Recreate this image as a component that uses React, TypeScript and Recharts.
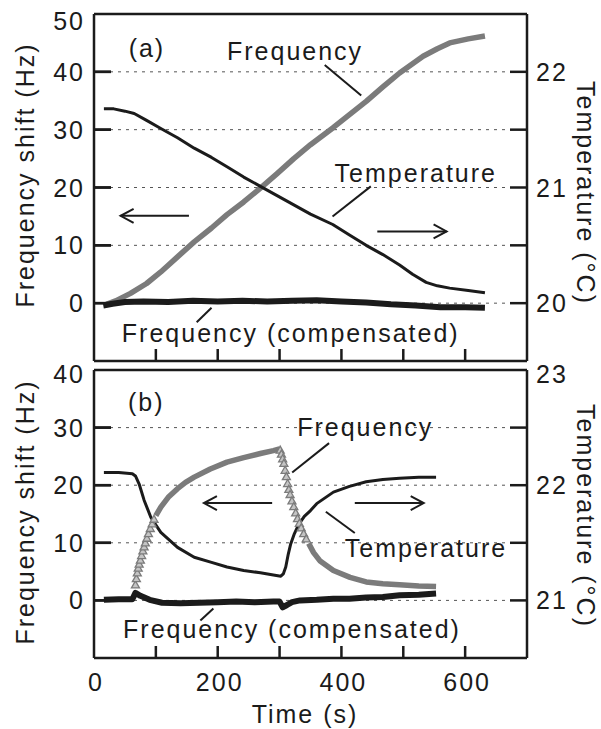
import React from "react";
import {
  CartesianGrid,
  Line,
  LineChart,
  ReferenceDot,
  ReferenceLine,
  XAxis,
  YAxis
} from "recharts";

const FONT = '"Liberation Sans", Arial, Helvetica, sans-serif';
const INK = "#1b1b1b";
const GREY = "#7b7b7b";

// time axis (s)
const timeTicks = [0, 100, 200, 300, 400, 500, 600, 700];
const timeLabels = [0, 200, 400, 600];

// panel (a): slow cool-down
const hzTicksA = [-10, 0, 10, 20, 30, 40, 50];
const tempTicksA = [19.5, 20, 20.5, 21, 21.5, 22, 22.5];

const freqA = [
  { t: 20, hz: -0.2 }, { t: 35, hz: 0.4 }, { t: 59, hz: 1.7 }, { t: 85, hz: 3.4 },
  { t: 108, hz: 5.4 }, { t: 135, hz: 8.0 }, { t: 162, hz: 10.6 }, { t: 190, hz: 13.0 },
  { t: 215, hz: 15.3 }, { t: 242, hz: 17.5 }, { t: 269, hz: 19.9 }, { t: 296, hz: 22.4 },
  { t: 323, hz: 25.0 }, { t: 350, hz: 27.4 }, { t: 386, hz: 30.3 }, { t: 413, hz: 32.6 },
  { t: 440, hz: 34.9 }, { t: 467, hz: 37.4 }, { t: 494, hz: 39.8 }, { t: 515, hz: 41.4 },
  { t: 532, hz: 42.7 }, { t: 555, hz: 44.0 }, { t: 575, hz: 45.0 }, { t: 605, hz: 45.7 },
  { t: 632, hz: 46.2 }
];

const tempA = [
  { t: 16, temp: 21.68 }, { t: 32, temp: 21.68 }, { t: 50, temp: 21.66 }, { t: 65, temp: 21.64 },
  { t: 85, temp: 21.58 }, { t: 108, temp: 21.51 }, { t: 135, temp: 21.43 }, { t: 162, temp: 21.34 },
  { t: 190, temp: 21.26 }, { t: 215, temp: 21.18 }, { t: 242, temp: 21.09 }, { t: 269, temp: 21.01 },
  { t: 296, temp: 20.93 }, { t: 323, temp: 20.85 }, { t: 350, temp: 20.77 }, { t: 386, temp: 20.68 },
  { t: 413, temp: 20.59 }, { t: 440, temp: 20.5 }, { t: 467, temp: 20.42 }, { t: 494, temp: 20.33 },
  { t: 515, temp: 20.25 }, { t: 537, temp: 20.18 }, { t: 555, temp: 20.15 }, { t: 575, temp: 20.13 },
  { t: 605, temp: 20.11 }, { t: 632, temp: 20.09 }
];

const compA = [
  { t: 15, hz: -0.4 }, { t: 30, hz: -0.1 }, { t: 50, hz: 0.2 }, { t: 80, hz: 0.3 },
  { t: 120, hz: 0.2 }, { t: 160, hz: 0.4 }, { t: 200, hz: 0.3 }, { t: 240, hz: 0.4 },
  { t: 280, hz: 0.3 }, { t: 320, hz: 0.4 }, { t: 360, hz: 0.5 }, { t: 400, hz: 0.3 },
  { t: 440, hz: 0.1 }, { t: 480, hz: -0.2 }, { t: 520, hz: -0.4 }, { t: 560, hz: -0.7 },
  { t: 600, hz: -0.7 }, { t: 632, hz: -0.8 }
];

// panel (b): step down then step back up
const hzTicksB = [-10, 0, 10, 20, 30, 40];
const tempTicksB = [20.5, 21, 21.5, 22, 22.5, 23];

const tempB = [
  { t: 16, temp: 22.11 }, { t: 40, temp: 22.11 }, { t: 62, temp: 22.1 }, { t: 67, temp: 22.08 },
  { t: 73, temp: 22.01 }, { t: 81, temp: 21.87 }, { t: 92, temp: 21.72 }, { t: 108, temp: 21.59 },
  { t: 135, temp: 21.46 }, { t: 162, temp: 21.375 }, { t: 190, temp: 21.33 }, { t: 215, temp: 21.29 },
  { t: 242, temp: 21.26 }, { t: 269, temp: 21.24 }, { t: 290, temp: 21.22 }, { t: 302, temp: 21.21 },
  { t: 306, temp: 21.23 }, { t: 310, temp: 21.29 }, { t: 314, temp: 21.4 }, { t: 318, temp: 21.49 },
  { t: 324, temp: 21.58 }, { t: 331, temp: 21.66 }, { t: 340, temp: 21.73 }, { t: 350, temp: 21.78 },
  { t: 360, temp: 21.84 }, { t: 387, temp: 21.94 }, { t: 413, temp: 21.99 }, { t: 440, temp: 22.03 },
  { t: 467, temp: 22.05 }, { t: 494, temp: 22.06 }, { t: 525, temp: 22.07 }, { t: 553, temp: 22.07 }
];

// dense part of the frequency record, drawn as a band
const freqB = [
  { t: 100, hz: 14.7 }, { t: 108, hz: 16.2 }, { t: 120, hz: 17.9 }, { t: 135, hz: 19.4 },
  { t: 148, hz: 20.5 }, { t: 162, hz: 21.4 }, { t: 188, hz: 22.8 }, { t: 215, hz: 24.0 },
  { t: 242, hz: 24.8 }, { t: 269, hz: 25.5 }, { t: 290, hz: 26.0 }, { t: 300, hz: 26.3 },
  { t: 320, hz: null },
  { t: 347, hz: 9.9 }, { t: 355, hz: 8.3 }, { t: 365, hz: 6.9 }, { t: 387, hz: 5.2 },
  { t: 414, hz: 4.0 }, { t: 440, hz: 3.2 }, { t: 467, hz: 2.9 }, { t: 494, hz: 2.7 },
  { t: 525, hz: 2.5 }, { t: 553, hz: 2.4 }
];

// sparse samples on the fast rise and fall, drawn as open triangles
const freqBSteep = [
  { t: 67, hz: 2.6 }, { t: 68.5, hz: 3.7 }, { t: 70, hz: 4.7 }, { t: 71.5, hz: 5.5 },
  { t: 73, hz: 6.2 }, { t: 75, hz: 6.9 }, { t: 77, hz: 7.7 }, { t: 79, hz: 8.5 },
  { t: 81, hz: 9.2 }, { t: 83, hz: 9.9 }, { t: 85.5, hz: 10.7 }, { t: 88, hz: 11.5 },
  { t: 91, hz: 12.4 }, { t: 94, hz: 13.2 }, { t: 97, hz: 14.0 },
  { t: 301, hz: 26.0 }, { t: 303, hz: 25.3 }, { t: 305, hz: 24.5 }, { t: 307, hz: 23.7 },
  { t: 309, hz: 22.5 }, { t: 311, hz: 21.4 }, { t: 313, hz: 20.2 }, { t: 315, hz: 19.2 },
  { t: 317, hz: 18.3 }, { t: 320, hz: 17.2 }, { t: 323, hz: 16.2 }, { t: 326, hz: 15.1 },
  { t: 329, hz: 14.1 }, { t: 332, hz: 13.3 }, { t: 335, hz: 12.5 }, { t: 339, hz: 11.5 },
  { t: 343, hz: 10.6 }
];

const compB = [
  { t: 16, hz: 0.1 }, { t: 40, hz: 0.2 }, { t: 62, hz: 0.2 }, { t: 67, hz: 1.3 },
  { t: 75, hz: 0.8 }, { t: 90, hz: 0.1 }, { t: 110, hz: -0.4 }, { t: 140, hz: -0.5 },
  { t: 170, hz: -0.4 }, { t: 200, hz: -0.3 }, { t: 230, hz: -0.2 }, { t: 260, hz: -0.3 },
  { t: 290, hz: -0.2 }, { t: 300, hz: -0.2 }, { t: 305, hz: -1.2 }, { t: 312, hz: -0.8 },
  { t: 320, hz: -0.3 }, { t: 333, hz: 0.0 }, { t: 360, hz: 0.1 }, { t: 387, hz: 0.3 },
  { t: 413, hz: 0.3 }, { t: 440, hz: 0.5 }, { t: 467, hz: 0.6 }, { t: 494, hz: 0.9 },
  { t: 525, hz: 1.0 }, { t: 553, hz: 1.2 }
];

const textStyle = { fontFamily: FONT, fontSize: 25, letterSpacing: 2, fill: INK };
const frame = { stroke: INK, strokeWidth: 2.5 };

// left axis: inward mark plus label (labels from 0 up)
const hzTick = (lo: number, hi: number, topShift: number) => (props: any) => {
  const { x, y, payload } = props;
  const v = payload.value;
  return (
    <g>
      {v > lo && v < hi && (
        <line x1={x} y1={y} x2={x + 17} y2={y} stroke={INK} strokeWidth={2.5} />
      )}
      {v >= 0 && (
        <text x={x - 9} y={y + 9 + (v === hi ? topShift : 0)} textAnchor="end" style={textStyle}>
          {v}
        </text>
      )}
    </g>
  );
};

// right axis: labels on whole degrees only
const tempLabel = (hi: number, topShift: number) => (props: any) => {
  const { x, y, payload } = props;
  const v = payload.value;
  if (!Number.isInteger(v)) return <g />;
  return (
    <text x={x + 9} y={y + 9 + (v === hi ? topShift : 0)} textAnchor="start" style={textStyle}>
      {v}
    </text>
  );
};

const timeLabel = (withLabels: boolean) => (props: any) => {
  const { x, y, payload } = props;
  const v = payload.value;
  if (!withLabels || !timeLabels.includes(v)) return <g />;
  return (
    <text x={x + 2} y={y + 33} textAnchor="middle" style={textStyle}>
      {v}
    </text>
  );
};

// inward tick marks at both ends of a full-width segment:
// the Hz ticks on the left, the 0.5 °C steps on the right
const sideTicks = (p: any) => {
  const { x1, x2, y1, y2 } = p;
  return (
    <g>
      <line x1={x1} y1={y1} x2={x1 + 17} y2={y1} stroke={INK} strokeWidth={2.5} />
      <line x1={x2 - 17} y1={y2} x2={x2} y2={y2} stroke={INK} strokeWidth={2.5} />
    </g>
  );
};

const bottomTick = (p: any) => {
  const { x1, y1, y2 } = p;
  const b = Math.max(y1, y2);
  return <path d={`M${x1},${b}v-12`} stroke={INK} strokeWidth={2.5} fill="none" />;
};

const note = (text: string) => (p: any) => (
  <text x={p.cx} y={p.cy} style={textStyle}>
    {text}
  </text>
);

const arrow = (p: any) => {
  const { x1, y1, x2, y2 } = p;
  const dir = Math.sign(x2 - x1);
  return (
    <g>
      <line x1={x1} y1={y1} x2={x2} y2={y2} stroke={INK} strokeWidth={2} />
      <polyline
        points={`${x2 - dir * 13},${y2 - 7} ${x2},${y2} ${x2 - dir * 13},${y2 + 7}`}
        fill="none"
        stroke={INK}
        strokeWidth={2}
      />
    </g>
  );
};

const triangle = (p: any) => {
  const { cx, cy, index } = p;
  return (
    <path
      key={`tri-${index}`}
      d={`M${cx},${cy - 4.5} L${cx + 4},${cy + 2.5} L${cx - 4},${cy + 2.5} Z`}
      fill="#c4c4c4"
      stroke={GREY}
      strokeWidth={1.3}
    />
  );
};

const pointer = (a: [number, number], b: [number, number]) => (
  <ReferenceLine
    yAxisId="hz"
    segment={[{ x: a[0], y: a[1] }, { x: b[0], y: b[1] }]}
    stroke={INK}
    strokeWidth={2}
  />
);

const tickMarks = (hzTicks: number[]) => [
  ...hzTicks.slice(1, -1).map((v) => (
    <ReferenceLine
      key={`h${v}`}
      yAxisId="hz"
      segment={[{ x: 0, y: v }, { x: 700, y: v }]}
      shape={sideTicks}
    />
  )),
  ...timeTicks
    .slice(1, -1)
    .map((v) => <ReferenceLine key={`t${v}`} yAxisId="hz" x={v} shape={bottomTick} />)
];

function PanelA() {
  return (
    <LineChart width={601} height={368} margin={{ top: 14, right: 0, bottom: 0, left: 0 }}>
      <CartesianGrid yAxisId="hz" vertical={false} stroke="#555" strokeDasharray="3 5" />
      <XAxis
        dataKey="t"
        type="number"
        domain={[0, 700]}
        ticks={timeTicks}
        interval={0}
        height={7}
        tickSize={0}
        tickMargin={0}
        axisLine={frame}
        tickLine={false}
        tick={timeLabel(false)}
        allowDataOverflow
      />
      <YAxis
        yAxisId="hz"
        type="number"
        domain={[-10, 50]}
        ticks={hzTicksA}
        interval={0}
        width={94}
        tickSize={0}
        tickMargin={0}
        axisLine={frame}
        tickLine={false}
        tick={hzTick(-10, 50, 7)}
        allowDataOverflow
      />
      <YAxis
        yAxisId="temp"
        orientation="right"
        type="number"
        domain={[19.5, 22.5]}
        ticks={tempTicksA}
        interval={0}
        width={74}
        tickSize={0}
        tickMargin={0}
        axisLine={frame}
        tickLine={false}
        tick={tempLabel(22.5, 2)}
        allowDataOverflow
      />
      <ReferenceLine yAxisId="hz" y={50} stroke={INK} strokeWidth={2.5} />
      {tickMarks(hzTicksA)}
      <Line yAxisId="hz" data={freqA} dataKey="hz" stroke={GREY} strokeWidth={5.5} dot={false} strokeLinejoin="round" isAnimationActive={false} />
      <Line yAxisId="temp" data={tempA} dataKey="temp" stroke={INK} strokeWidth={3} dot={false} strokeLinejoin="round" isAnimationActive={false} />
      <Line yAxisId="hz" data={compA} dataKey="hz" stroke={INK} strokeWidth={6} dot={false} strokeLinejoin="round" isAnimationActive={false} />

      <ReferenceDot yAxisId="hz" x={56} y={42.5} shape={note("(a)")} />
      <ReferenceDot yAxisId="hz" x={215} y={42.1} shape={note("Frequency")} />
      <ReferenceDot yAxisId="hz" x={389} y={21.0} shape={note("Temperature")} />
      <ReferenceDot yAxisId="hz" x={45} y={-6.8} shape={note("Frequency (compensated)")} />
      {pointer([373, 41.2], [432, 35.9])}
      {pointer([447.5, 20.2], [385.6, 15.0])}
      {pointer([166, -3.3], [190, -0.8])}
      <ReferenceLine yAxisId="hz" segment={[{ x: 153.5, y: 15.1 }, { x: 43, y: 15.1 }]} shape={arrow} />
      <ReferenceLine yAxisId="hz" segment={[{ x: 458, y: 12.4 }, { x: 570, y: 12.4 }]} shape={arrow} />
    </LineChart>
  );
}

function PanelB() {
  return (
    <LineChart width={601} height={369} margin={{ top: 10, right: 0, bottom: 0, left: 0 }}>
      <CartesianGrid yAxisId="hz" vertical={false} stroke="#555" strokeDasharray="3 5" />
      <XAxis
        dataKey="t"
        type="number"
        domain={[0, 700]}
        ticks={timeTicks}
        interval={0}
        height={71}
        tickSize={0}
        tickMargin={0}
        axisLine={frame}
        tickLine={false}
        tick={timeLabel(true)}
        allowDataOverflow
      />
      <YAxis
        yAxisId="hz"
        type="number"
        domain={[-10, 40]}
        ticks={hzTicksB}
        interval={0}
        width={94}
        tickSize={0}
        tickMargin={0}
        axisLine={frame}
        tickLine={false}
        tick={hzTick(-10, 40, 4)}
        allowDataOverflow
      />
      <YAxis
        yAxisId="temp"
        orientation="right"
        type="number"
        domain={[20.5, 23]}
        ticks={tempTicksB}
        interval={0}
        width={74}
        tickSize={0}
        tickMargin={0}
        axisLine={frame}
        tickLine={false}
        tick={tempLabel(23, 4)}
        allowDataOverflow
      />
      <ReferenceLine yAxisId="hz" y={40} stroke={INK} strokeWidth={2.5} />
      {tickMarks(hzTicksB)}
      <Line yAxisId="hz" data={freqB} dataKey="hz" stroke={GREY} strokeWidth={5.5} dot={false} strokeLinejoin="round" isAnimationActive={false} />
      <Line yAxisId="hz" data={freqBSteep} dataKey="hz" stroke="none" dot={triangle} isAnimationActive={false} />
      <Line yAxisId="temp" data={tempB} dataKey="temp" stroke={INK} strokeWidth={3} dot={false} strokeLinejoin="round" isAnimationActive={false} />
      <Line yAxisId="hz" data={compB} dataKey="hz" stroke={INK} strokeWidth={6} dot={false} strokeLinejoin="round" isAnimationActive={false} />

      <ReferenceDot yAxisId="hz" x={55} y={32.9} shape={note("(b)")} />
      <ReferenceDot yAxisId="hz" x={328.5} y={28.6} shape={note("Frequency")} />
      <ReferenceDot yAxisId="hz" x={405.5} y={7.5} shape={note("Temperature")} />
      <ReferenceDot yAxisId="hz" x={47} y={-6.6} shape={note("Frequency (compensated)")} />
      {pointer([320.4, 22.2], [380, 27.3])}
      {pointer([374.8, 15.4], [421.6, 11.7])}
      {pointer([172, -3.5], [193, -1.4])}
      <ReferenceLine yAxisId="hz" segment={[{ x: 288, y: 16.9 }, { x: 177.7, y: 16.9 }]} shape={arrow} />
      <ReferenceLine yAxisId="hz" segment={[{ x: 421.6, y: 16.9 }, { x: 533, y: 16.9 }]} shape={arrow} />
    </LineChart>
  );
}

export default function App() {
  return (
    <div style={{ position: "absolute", left: 0, top: 0, width: 601, height: 729, background: "#fff", overflow: "hidden" }}>
      <div style={{ position: "absolute", left: 0, top: 0 }}>
        <PanelA />
      </div>
      <div style={{ position: "absolute", left: 0, top: 360 }}>
        <PanelB />
      </div>
      {/* axis titles */}
      <svg width={601} height={729} style={{ position: "absolute", left: 0, top: 0, pointerEvents: "none" }}>
        <text transform="translate(34,175) rotate(-90)" textAnchor="middle" style={textStyle}>
          Frequency shift (Hz)
        </text>
        <text transform="translate(34,512) rotate(-90)" textAnchor="middle" style={textStyle}>
          Frequency shift (Hz)
        </text>
        <text transform="translate(577,193) rotate(90)" textAnchor="middle" style={textStyle}>
          Temperature (°C)
        </text>
        <text transform="translate(577,516) rotate(90)" textAnchor="middle" style={textStyle}>
          Temperature (°C)
        </text>
        <text x={305} y={723} textAnchor="middle" style={textStyle}>
          Time (s)
        </text>
      </svg>
    </div>
  );
}
